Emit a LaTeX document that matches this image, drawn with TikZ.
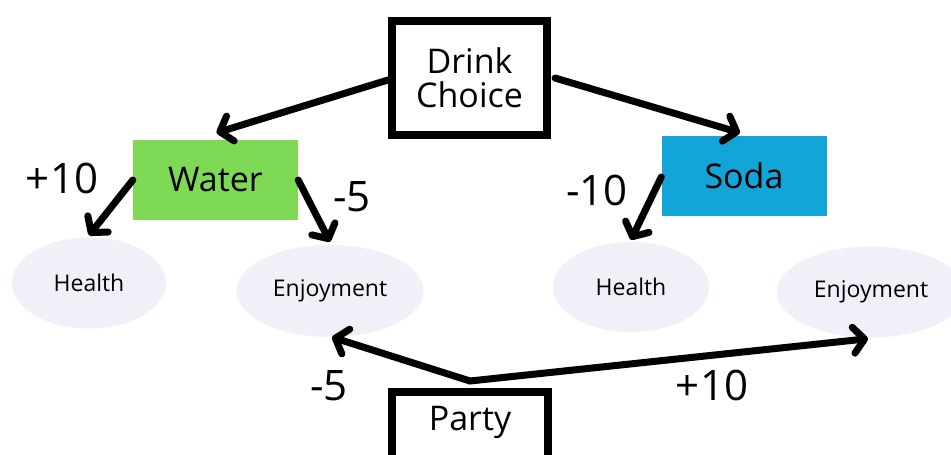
\documentclass[tikz,border=0pt]{standalone}
\usepackage{fontspec}
\setmainfont{Open Sans}
\newfontfamily\numfont{Open Sans}[Numbers=SlashedZero]
\usetikzlibrary{arrows.meta,shapes.geometric}
\definecolor{watergreen}{HTML}{7ED957}
\definecolor{sodablue}{HTML}{12A5D8}
\definecolor{ellfill}{HTML}{EFF0F8}
\begin{document}
\begin{tikzpicture}[x=1pt,y=-1pt,
  box/.style={draw=black, line width=8pt, fill=white, minimum width=155pt, minimum height=114pt, align=center, inner sep=0pt, font=\fontsize{34}{38}\selectfont},
  colbox/.style={minimum width=165pt, minimum height=80pt, inner sep=0pt, font=\fontsize{34}{38}\selectfont},
  oval/.style={ellipse, fill=ellfill, inner sep=0pt, font=\fontsize{23}{26}\selectfont},
  arr/.style={line width=7pt, line cap=round, -{Straight Barb[length=11pt,width=26pt,line cap=round,line join=round]}},
  lab/.style={inner sep=0pt, font=\numfont\fontsize{42}{44}\selectfont}]
\fill[white] (0,0) rectangle (951,455);
\clip (0,0) rectangle (951,455);
\useasboundingbox (0,0) rectangle (951,455);

% nodes
\node[box] (drink) at (469.5,78) {Drink\\[-4pt]Choice};
\node[colbox, fill=watergreen] (water) at (215.5,180) {Water};
\node[colbox, fill=sodablue] (soda) at (744,176) {Soda};
\node[oval, minimum width=154pt, minimum height=91pt] (hl) at (89,283) {Health};
\node[oval, minimum width=187pt, minimum height=92pt] (el) at (330,291) {Enjoyment};
\node[oval, minimum width=156pt, minimum height=90pt] (hr) at (631,287) {Health};
\node[oval, minimum width=188pt, minimum height=91pt] (er) at (871,292) {Enjoyment};
\node[box, minimum width=156pt, minimum height=114pt] (party) at (470,449) {};
\node[inner sep=0pt, font=\fontsize{34}{38}\selectfont] (partytext) at (470,422) {Party};
\coordinate (ptop) at (470,381);

% arrows
\draw[arr] ([yshift=-2pt]drink.west) -- ([xshift=1pt,yshift=7pt]water.north);
\draw[arr] ([xshift=4pt]drink.east) -- ([xshift=-4pt,yshift=3pt]soda.north);
\draw[arr] (water.west) -- ([yshift=2pt]hl.north);
\draw[arr] (water.east) -- ([yshift=3pt]el.north);
\draw[arr] ([yshift=-1pt]soda.west) -- ([yshift=2pt]hr.north);
\draw[arr] (ptop) -- ([xshift=2pt]el.south);
\draw[arr] (ptop) -- ([xshift=-3pt,yshift=-1pt]er.south);

% labels
\node[lab] (l1) at (62,178) {+10};
\node[lab] (l2) at (352,197) {-5};
\node[lab] (l3) at (597,190) {-10};
\node[lab] (l4) at (329,386) {-5};
\node[lab] (l5) at (712,385) {+10};
\end{tikzpicture}
\end{document}
